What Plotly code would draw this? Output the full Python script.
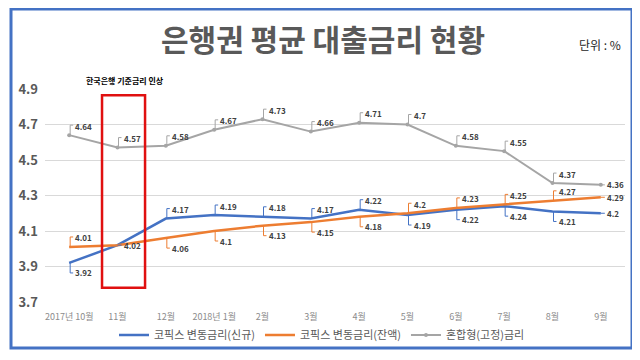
import plotly.graph_objects as go

# ---------------- data ----------------
months = ["2017년 10월", "11월", "12월", "2018년 1월", "2월", "3월",
          "4월", "5월", "6월", "7월", "8월", "9월"]
cofix_new = [3.92, 4.02, 4.17, 4.19, 4.18, 4.17, 4.22, 4.19, 4.22, 4.24, 4.21, 4.20]
cofix_bal = [4.01, 4.02, 4.06, 4.10, 4.13, 4.15, 4.18, 4.20, 4.23, 4.25, 4.27, 4.29]
mixed_fix = [4.64, 4.57, 4.58, 4.67, 4.73, 4.66, 4.71, 4.70, 4.58, 4.55, 4.37, 4.36]
series_names = ["코픽스 변동금리(신규)", "코픽스 변동금리(잔액)", "혼합형(고정)금리"]
y_ticks = [3.7, 3.9, 4.1, 4.3, 4.5, 4.7, 4.9]

# label placement (a = above, b = below, r = right, n = none)
pos_new = ["b", "r", "a", "a", "a", "a", "a", "b", "b", "b", "b", "r"]
pos_bal = ["a", "n", "b", "b", "b", "b", "b", "a", "a", "a", "a", "r"]
pos_mix = ["a"] * 11 + ["r"]

BLUE, ORANGE, GRAY = "#4472C4", "#ED7D31", "#A5A5A5"
KFONT = "Noto Sans CJK KR"

# The page body has an 8px default margin, so the figure is drawn offset by 8px.
OFF = 8
SW, SH = 640, 360                   # screen size
W, H = SW - OFF, SH - OFF           # figure size
# plot area in screen pixels
SPL, SPR, SPT, SPB = 45, 625, 89, 302
PL, PR, PT, PB = SPL - OFF, SPR - OFF, SPT - OFF, SPB - OFF


def px_x(sx):
    return (sx - SPL) / (SPR - SPL)


def px_y(sy):
    return (SPB - sy) / (SPB - SPT)


fig = go.Figure()
fig.add_trace(go.Scatter(x=months, y=cofix_new, name=series_names[0], mode="lines",
                         line=dict(color=BLUE, width=2.5)))
fig.add_trace(go.Scatter(x=months, y=cofix_bal, name=series_names[1], mode="lines",
                         line=dict(color=ORANGE, width=2.5)))
fig.add_trace(go.Scatter(x=months, y=mixed_fix, name=series_names[2], mode="lines+markers",
                         line=dict(color=GRAY, width=2), marker=dict(size=4, color=GRAY)))

annotations = []
shapes = []


def add_labels(vals, poss, color):
    for i, (v, p) in enumerate(zip(vals, poss)):
        if p == "n":
            continue
        txt = f"{v:g}"
        if p == "a":
            path = "M1,0 L1,10 L4,10"
            ys, xs = 9, 4
        elif p == "b":
            path = "M1,0 L1,-10 L4,-10"
            ys, xs = -10, 4
        else:
            path = "M0,0 L4,0"
            ys, xs = 0, 4
        shapes.append(dict(type="path", xref="x", yref="y", xsizemode="pixel", ysizemode="pixel",
                           xanchor=months[i], yanchor=v, path=path,
                           line=dict(color=color, width=1)))
        annotations.append(dict(x=months[i], y=v, xref="x", yref="y", text=txt, showarrow=False,
                                xanchor="left", yanchor="middle", xshift=xs, yshift=ys,
                                font=dict(family=KFONT, size=8, color="#404040", weight="bold")))


add_labels(cofix_new, pos_new, BLUE)
add_labels(cofix_bal, pos_bal, ORANGE)
add_labels(mixed_fix, pos_mix, GRAY)

# red highlight box around the rate-hike month
shapes.append(dict(type="rect", xref="x", yref="y", x0=0.68, x1=1.57, y0=3.78, y1=4.865,
                   line=dict(color="#E01010", width=2.5), fillcolor="rgba(0,0,0,0)"))
# outer blue frame
shapes.append(dict(type="rect", xref="paper", yref="paper", x0=px_x(11), x1=px_x(632),
                   y0=px_y(348), y1=px_y(9), line=dict(color=BLUE, width=3),
                   fillcolor="rgba(0,0,0,0)", layer="above"))

annotations.append(dict(xref="paper", yref="paper", x=px_x(323), y=px_y(38),
                        text="은행권 평균 대출금리 현황", showarrow=False,
                        xanchor="center", yanchor="middle",
                        font=dict(family=KFONT, size=30, color="#595959", weight="bold")))
annotations.append(dict(xref="paper", yref="paper", x=px_x(600), y=px_y(44),
                        text="단위 : %", showarrow=False, xanchor="center", yanchor="middle",
                        font=dict(family=KFONT, size=12, color="#262626")))
annotations.append(dict(xref="paper", yref="paper", x=px_x(125), y=px_y(80),
                        text="한국은행 기준금리 인상", showarrow=False,
                        xanchor="center", yanchor="middle",
                        font=dict(family=KFONT, size=8, color="#000000", weight="bold")))

fig.update_layout(
    width=W, height=H,
    margin=dict(l=PL, r=W - PR, t=PT, b=H - PB, autoexpand=False),
    paper_bgcolor="white", plot_bgcolor="white",
    showlegend=True,
    legend=dict(orientation="h", x=px_x(322), y=px_y(335), xanchor="center", yanchor="middle",
                font=dict(family=KFONT, size=11, color="#595959"), itemwidth=30,
                bgcolor="rgba(0,0,0,0)"),
    xaxis=dict(type="category", range=[-0.5, 11.5], showgrid=False, showline=False,
               zeroline=False, ticks="", ticklabelstandoff=8,
               tickfont=dict(family=KFONT, size=9, color="#8C8C8C")),
    yaxis=dict(range=[3.7, 4.9], tickvals=y_ticks, ticktext=[f"{t:.1f}" for t in y_ticks],
               showgrid=True, gridcolor="#D9D9D9", gridwidth=1, zeroline=False, showline=False,
               ticks="", ticklabelstandoff=6,
               tickfont=dict(family=KFONT, size=13, color="#595959", weight="bold")),
    annotations=annotations,
    shapes=shapes,
)

fig.write_html("out.html")
